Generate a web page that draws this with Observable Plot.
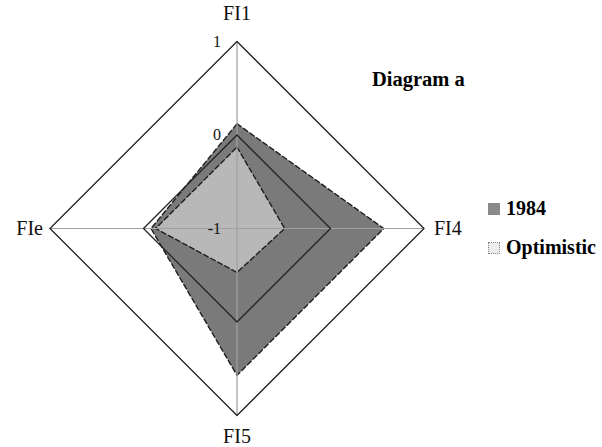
<!DOCTYPE html>
<html>
<head>
<meta charset="utf-8">
<script src="https://cdn.jsdelivr.net/npm/d3@7"></script>
<script src="https://cdn.jsdelivr.net/npm/@observablehq/plot@0.6"></script>
<style>
  html, body { margin: 0; padding: 0; background: #fff; }
  #wrap { position: relative; width: 602px; height: 447px; font-family: "Liberation Serif", "Times New Roman", serif; }
  #chart { position: absolute; left: 0; top: 0; }
  .title { position: absolute; left: 372px; top: 69px; font-size: 20.5px; font-weight: bold; line-height: 20px; color: #000; white-space: nowrap; }
  .leg { position: absolute; left: 488px; font-size: 20px; font-weight: bold; line-height: 20px; color: #000; white-space: nowrap; }
  .sw { display: inline-block; width: 10px; height: 10px; border: 1px dotted #888; vertical-align: baseline; margin-right: 6px; }
</style>
</head>
<body>
<div id="wrap">
  <div id="chart"></div>
  <div class="title">Diagram a</div>
  <div id="legend"></div>
</div>
<script>
// ---- data ----
const axesNames = ["FI1", "FI4", "FI5", "FIe"];
const values1984 = [0.12, 0.57, 0.57, -0.08];
const valuesOptimistic = [-0.13, -0.49, -0.53, -0.13];
const tickValues = [-1, 0, 1];
const seriesNames = ["1984", "Optimistic"];
const seriesFills = ["#7a7a7a", "#b8b8b8"];
const legendFills = ["#8a8a8a", "#ececec"];

// ---- geometry helpers ----
const cx = 236.5, cy = 228, R = 187;
const rad = v => (v + 1) / 2;                 // value -> unit radius
const ang = i => Math.PI / 2 - i * Math.PI / 2; // clockwise from top
const px = (i, v) => rad(v) * Math.cos(ang(i));
const py = (i, v) => rad(v) * Math.sin(ang(i));

const polyData = (vals, name) => vals.map((v, i) => ({series: name, i, v}));
const ringData = tickValues.filter(t => t > -1).flatMap(t => axesNames.map((a, i) => ({t, i})));

const labelOffsets = [
  {dx: 0, dy: -28, anchor: "middle"},
  {dx: 10, dy: 0, anchor: "start"},
  {dx: 0, dy: 21, anchor: "middle"},
  {dx: -7, dy: 0, anchor: "end"}
];

const marks = [
  Plot.line(polyData(values1984, seriesNames[0]), {
    x: d => px(d.i, d.v), y: d => py(d.i, d.v), curve: "linear-closed",
    fill: seriesFills[0], stroke: "#1e1e1e", strokeWidth: 1.4, strokeDasharray: "5,3"
  }),
  Plot.line(polyData(valuesOptimistic, seriesNames[1]), {
    x: d => px(d.i, d.v), y: d => py(d.i, d.v), curve: "linear-closed",
    fill: seriesFills[1], stroke: "#1e1e1e", strokeWidth: 1.4, strokeDasharray: "5,3"
  }),
  Plot.link(axesNames, {
    x1: 0, y1: 0, x2: (d, i) => px(i, 1), y2: (d, i) => py(i, 1),
    stroke: "#a0a0a0", strokeWidth: 1.2
  }),
  Plot.line(ringData, {
    x: d => px(d.i, d.t), y: d => py(d.i, d.t), z: "t", curve: "linear-closed",
    stroke: "#222", strokeWidth: 1.3
  }),
  Plot.text(tickValues, {
    x: 0, y: v => rad(v), text: v => String(v), textAnchor: "end", dx: -16,
    fontSize: 16, fill: "#111"
  })
];
axesNames.forEach((name, i) => {
  const o = labelOffsets[i];
  marks.push(Plot.text([name], {
    x: () => px(i, 1), y: () => py(i, 1), text: d => d,
    textAnchor: o.anchor, dx: o.dx, dy: o.dy, fontSize: 20, fill: "#111"
  }));
});

const chart = Plot.plot({
  width: 602, height: 447, margin: 0,
  x: {domain: [-1, 1], range: [cx - R, cx + R], axis: null},
  y: {domain: [-1, 1], range: [cy + R, cy - R], axis: null},
  style: {fontFamily: "Liberation Serif, Times New Roman, serif", background: "white"},
  marks
});
document.getElementById("chart").append(chart);

// legend
const legend = document.getElementById("legend");
const legendTops = [198, 237];
seriesNames.forEach((name, k) => {
  const div = document.createElement("div");
  div.className = "leg";
  div.style.top = legendTops[k] + "px";
  const sw = document.createElement("span");
  sw.className = "sw";
  sw.style.background = legendFills[k];
  div.append(sw, document.createTextNode(name));
  legend.append(div);
});
</script>
</body>
</html>
